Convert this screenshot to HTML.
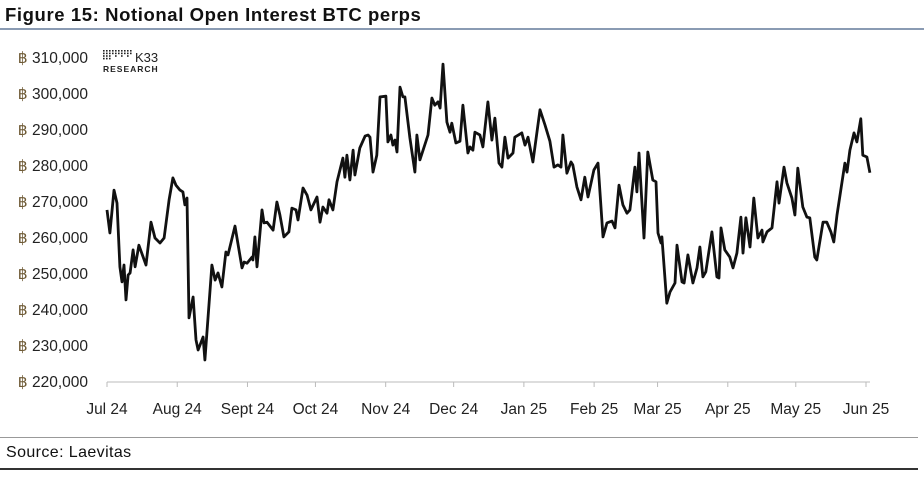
<!DOCTYPE html>
<html><head><meta charset="utf-8"><style>
body{margin:0;width:924px;height:486px;background:#fff;overflow:hidden;font-family:"Liberation Sans",sans-serif}
#title{position:absolute;left:5px;top:4px;font-size:18.5px;font-weight:bold;color:#111;letter-spacing:0.6px}
#rule1{position:absolute;left:0;top:28px;width:924px;height:2px;background:#8a9bb3}
#rule2{position:absolute;left:0;top:437px;width:918px;height:1px;background:#999}
#rule3{position:absolute;left:0;top:468px;width:918px;height:2px;background:#333}
#source{position:absolute;left:6px;top:444px;font-size:16px;color:#111;letter-spacing:0.4px}
</style></head><body>
<div id="title">Figure 15: Notional Open Interest BTC perps</div>
<div id="rule1"></div>
<svg id="chart" width="924" height="486" style="position:absolute;left:0;top:0">
<g>
<g fill="#222" id="logodots"></g>
<text x="135" y="62" font-size="13" fill="#222" font-family="Liberation Sans">K33</text>
<text x="103" y="72" font-size="8.5" font-weight="bold" fill="#222" letter-spacing="1" font-family="Liberation Sans">RESEARCH</text>
</g>
<g id="yaxis"></g>
<g id="xaxis"></g>
<path id="line" fill="none" stroke="#111" stroke-width="2.8" stroke-linejoin="round"/>
</svg>
<div id="rule2"></div>
<div id="source">Source: Laevitas</div>
<div id="rule3"></div>
<script>
const yTicks=[220000,230000,240000,250000,260000,270000,280000,290000,300000,310000];
const monthLabels=["Jul 24","Aug 24","Sept 24","Oct 24","Nov 24","Dec 24","Jan 25","Feb 25","Mar 25","Apr 25","May 25","Jun 25"];
const monthDays=[0,31,62,92,123,153,184,215,243,274,304,335];
const days=[0,1.3,3.1,4.4,5.7,6.6,7.5,8.4,9.3,10.2,11.5,12.4,14.1,17.2,19.4,21.2,23.4,25.2,27.4,29.1,30.4,32.2,33.5,34.4,35.3,36.2,38,39.3,40.2,42.4,43.2,46.3,47.7,49,50.7,52.5,53.4,56.5,59.6,60.5,61.8,64,64.4,65.3,66.2,68.4,69.3,70.6,73.3,75,76.3,78.1,80.3,81.6,83.4,84.3,86.5,88.3,90,92.7,94,95.3,97.1,98,99.7,101.5,104.1,105,105.9,107.2,108.6,109.4,111.6,113.9,115.2,116.1,117.4,119.1,120.5,123.1,124,125.3,126.2,127.1,128,129.3,130.6,131.5,133.7,135.9,136.8,138.1,141.7,143.4,144.7,146.1,147,148.3,150,151.4,152.2,154,155.8,157.1,159.3,160.2,161.5,162.4,164.6,165.9,168.1,169.9,171.2,173,174.3,175.6,177,179.2,180,183.1,184.5,185.8,188,191.1,193.3,195.5,197.3,199,200.4,201.2,203,204.8,205.6,207.4,209.2,210.9,212.3,214.9,216.7,218.9,220.7,222.9,224.2,226,227.7,229.5,230.8,233,233.9,234.8,237,238.7,240.9,242.3,243.2,244.5,244.9,247.1,248.5,250.7,251.6,253.8,254.7,256.4,258.6,260.4,261.7,263,264.3,267,269.2,270.1,271,272.7,274.9,276.3,278,279.8,280.7,282,283.8,285.5,287.3,289.1,289.5,291.3,293.5,295.7,296.6,298.8,300.1,302.3,303.6,304.9,307.1,308.9,310.2,312.4,313.3,316,317.7,319.5,320.8,322.2,325.7,326.6,327.9,329.7,331,332.7,333.6,335.4,336.7];
const values=[267.8,261.4,273.3,269.7,252,247.8,252.5,242.8,249.7,250.3,256.7,252,258,252.5,264.4,260,258.6,260,270.6,276.7,274.7,273.3,272.8,269.2,271.1,237.8,243.6,231.7,228.9,232.5,226.1,252.5,248.3,250.3,246.4,256.1,255.3,263.3,251.7,253.3,253,254.7,253.9,260.3,252,267.8,264.2,264.4,262.2,270,266.4,260.3,261.7,268.3,267.8,265,273.9,271.9,267.8,271.4,264.4,268.6,266.9,270.6,267.8,275.6,282.2,276.9,283,276.1,284.4,277.5,285,288.3,288.6,288,278.3,283,299.2,299.4,286.7,288.6,285.8,287.2,283.9,301.9,299.2,299.2,287.8,278.3,288.6,281.7,288.6,298.9,296.9,297.8,296.1,308.3,292.2,289.4,291.9,286.4,286.9,296.9,283.6,285.3,284.4,289.4,288.6,285.3,297.8,287.2,293.3,280.8,279.7,288,282.2,283.6,288,289.2,285.8,288,281.1,295.6,291.4,286.9,279.7,280.3,279.7,288.6,278,281.1,280.3,274.2,270.6,276.9,271.4,278.9,280.8,260.3,264.2,264.7,262.8,274.7,269.2,266.9,267.8,279.7,272.8,283.6,260,283.9,276.1,275.6,261.4,258.6,260.3,241.9,245,247.5,258,247.8,247.5,255.3,247.5,251.7,257.5,249.2,250.6,261.7,249.2,248.9,262.8,256.7,254.7,251.7,255.8,265.8,255.8,265.6,257.5,271.1,260,262.2,258.9,261.7,262.8,275.6,269.7,279.7,275.3,271.1,266.4,279.4,268.6,265.8,265.6,254.7,253.9,264.4,264.4,261.7,258.9,266.4,280.8,278.3,284.4,289.2,286.7,293.1,283,282.5,278.1];
const X0=107,X1=866,Y0=382,Y1=58;
function xs(d){return X0+(X1-X0)*d/335;}
function ys(v){return Y0-(Y0-Y1)*(v-220000)/90000;}
const NS="http://www.w3.org/2000/svg";
const ya=document.getElementById('yaxis');
yTicks.forEach(t=>{
  const tx=document.createElementNS(NS,'text');
  
  
  tx.setAttribute('x',88);tx.setAttribute('y',ys(t)+5);
  tx.setAttribute('text-anchor','end');tx.setAttribute('font-size','15.5');tx.setAttribute('fill','#222');
  tx.innerHTML='<tspan fill="#6e5a35">฿</tspan> '+t.toLocaleString('en-US');
  ya.appendChild(tx);
});
const xa=document.getElementById('xaxis');
const ax=document.createElementNS(NS,'line');


ax.setAttribute('x1',X0);ax.setAttribute('x2',870);ax.setAttribute('y1',Y0);ax.setAttribute('y2',Y0);
ax.setAttribute('stroke','#bbb');xa.appendChild(ax);
monthLabels.forEach((m,i)=>{
  const x=xs(monthDays[i]);
  const tk=document.createElementNS(NS,'line');
  
  
  tk.setAttribute('x1',x);tk.setAttribute('x2',x);tk.setAttribute('y1',Y0);tk.setAttribute('y2',Y0+5);
  tk.setAttribute('stroke','#bbb');xa.appendChild(tk);
  const tx=document.createElementNS(NS,'text');
  
  
  tx.setAttribute('x',x);tx.setAttribute('y',414);tx.setAttribute('text-anchor','middle');
  tx.setAttribute('font-size','15.5');tx.setAttribute('fill','#222');tx.textContent=m;
  xa.appendChild(tx);
});
let d='';
days.forEach((dd,i)=>{d+=(i?'L':'M')+xs(dd).toFixed(1)+','+ys(values[i]*1000).toFixed(1);});
document.getElementById('line').setAttribute('d',d);
const ld=document.getElementById('logodots');
for(let c=0;c<10;c++){const rows=c<3?4:(c%2?2:3);for(let r=0;r<rows;r++){const e=document.createElementNS(NS,'rect');e.setAttribute('x',103+c*3);e.setAttribute('y',50+r*2.6);e.setAttribute('width',1.6);e.setAttribute('height',1.6);ld.appendChild(e);}}
</script>
</body></html>
